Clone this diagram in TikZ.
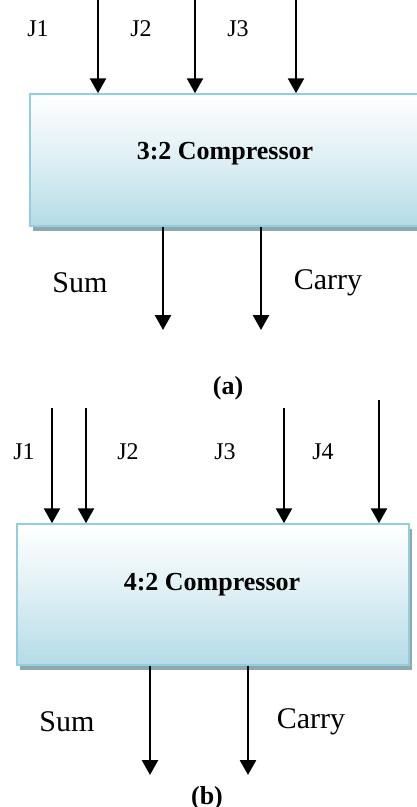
\documentclass[tikz,border=0pt]{standalone}
\usepackage{fontspec}
\setmainfont{Liberation Serif}
\usetikzlibrary{arrows.meta,shadows}
\definecolor{boxedge}{RGB}{146,206,221}
\definecolor{boxfill}{RGB}{180,219,230}
\definecolor{boxshade}{RGB}{143,168,176}
\tikzset{
  compbox/.style={draw=boxedge, line width=1.5pt, top color=white, bottom color=boxfill,
    middle color=boxfill!45!white, shading angle=0, inner sep=0pt,
    drop shadow={shadow xshift=3pt, shadow yshift=-5pt, fill=boxshade, opacity=1}},
  sig/.style={line width=2.6pt, -{Triangle[width=16pt,length=15pt]}},
  pin/.style={font=\fontsize{24}{24}\selectfont},
  outlab/.style={font=\fontsize{30}{30}\selectfont},
  title/.style={font=\fontsize{26}{26}\selectfont\bfseries},
  caption/.style={font=\fontsize{26}{26}\selectfont\bfseries}
}
\begin{document}
\begin{tikzpicture}[x=1pt,y=-1pt]
\useasboundingbox (0,0) rectangle (416,807);

% ---------- (a) 3:2 compressor ----------
\node[compbox, minimum width=395pt, minimum height=132pt] (boxA) at (227.5,160) {};
\node[title] (tA) at (225,154) {3:2 Compressor};

\coordinate (ai1) at (98,-2);
\coordinate (ai2) at (195,-2);
\coordinate (ai3) at (296,-2);
\draw[sig] (ai1) -- (ai1 |- boxA.north);
\draw[sig] (ai2) -- (ai2 |- boxA.north);
\draw[sig] (ai3) -- (ai3 |- boxA.north);

\node[pin] (laJ1) at (38,29) {J1};
\node[pin] (laJ2) at (141,29) {J2};
\node[pin] (laJ3) at (238,29) {J3};

\coordinate (ao1) at (163,330);
\coordinate (ao2) at (261,330);
\draw[sig] (ao1 |- boxA.south) -- (ao1);
\draw[sig] (ao2 |- boxA.south) -- (ao2);

\node[outlab] (laSum) at (80,283) {Sum};
\node[outlab] (laCarry) at (328,283) {Carry};
\node[caption] (capA) at (228,388) {(a)};

% ---------- (b) 4:2 compressor ----------
\node[compbox, minimum width=392pt, minimum height=141pt] (boxB) at (213,594.5) {};
\node[title] (tB) at (212,585) {4:2 Compressor};

\coordinate (bi1) at (52,408);
\coordinate (bi2) at (86,408);
\coordinate (bi3) at (284,408);
\coordinate (bi4) at (379,400);
\draw[sig] (bi1) -- (bi1 |- boxB.north);
\draw[sig] (bi2) -- (bi2 |- boxB.north);
\draw[sig] (bi3) -- (bi3 |- boxB.north);
\draw[sig] (bi4) -- (bi4 |- boxB.north);

\node[pin] (lbJ1) at (24,452) {J1};
\node[pin] (lbJ2) at (128,452) {J2};
\node[pin] (lbJ3) at (225,452) {J3};
\node[pin] (lbJ4) at (323,452) {J4};

\coordinate (bo1) at (150,775);
\coordinate (bo2) at (248,775);
\draw[sig] (bo1 |- boxB.south) -- (bo1);
\draw[sig] (bo2 |- boxB.south) -- (bo2);

\node[outlab] (lbSum) at (67,722) {Sum};
\node[outlab] (lbCarry) at (311,722) {Carry};
\node[caption] (capB) at (207,798) {(b)};
\end{tikzpicture}
\end{document}
